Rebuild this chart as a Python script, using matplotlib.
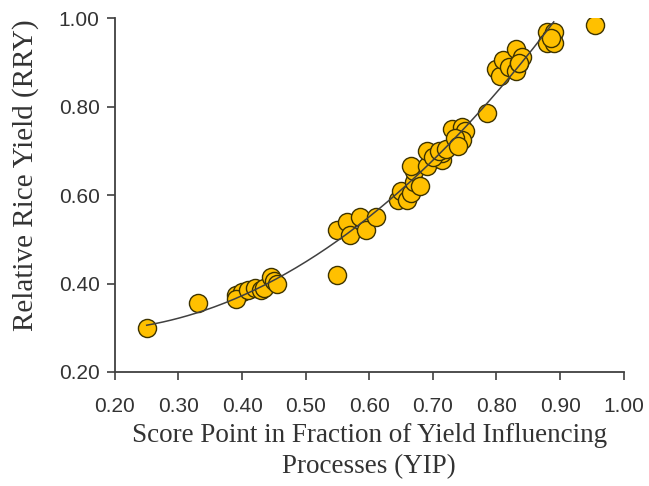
import numpy as np
import matplotlib
matplotlib.use("Agg")
import matplotlib.pyplot as plt

# YIP score (x) vs relative rice yield (y)
yip = [0.25, 0.33,
       0.39, 0.40, 0.39, 0.41, 0.42, 0.43, 0.435, 0.445, 0.45, 0.455,
       0.55, 0.55, 0.565, 0.57, 0.585, 0.595, 0.61,
       0.645, 0.65, 0.66, 0.665, 0.67, 0.67, 0.68, 0.665, 0.69, 0.70,
       0.715, 0.715, 0.69, 0.70, 0.71, 0.72,
       0.73, 0.745, 0.75, 0.745, 0.735, 0.74, 0.785,
       0.80, 0.805, 0.81, 0.82, 0.83, 0.835, 0.83, 0.84, 0.835,
       0.88, 0.89, 0.88, 0.89, 0.885, 0.955]
rry = [0.30, 0.355,
       0.375, 0.38, 0.365, 0.385, 0.39, 0.385, 0.39, 0.415, 0.405, 0.40,
       0.52, 0.42, 0.54, 0.51, 0.55, 0.52, 0.55,
       0.59, 0.61, 0.59, 0.605, 0.63, 0.655, 0.62, 0.665, 0.665, 0.69,
       0.68, 0.695, 0.70, 0.685, 0.70, 0.705,
       0.75, 0.755, 0.745, 0.725, 0.73, 0.71, 0.785,
       0.885, 0.87, 0.905, 0.89, 0.88, 0.898, 0.93, 0.913, 0.898,
       0.969, 0.969, 0.943, 0.943, 0.955, 0.984]

xticks = [0.20, 0.30, 0.40, 0.50, 0.60, 0.70, 0.80, 0.90, 1.00]
yticks = [0.20, 0.40, 0.60, 0.80, 1.00]

x = np.array(yip)
y = np.array(rry)

fig = plt.figure(figsize=(6.49, 4.86), dpi=100)
ax = fig.add_axes([0.177, 0.2346, 0.784, 0.728])

# 2次の近似曲線 (右端の1点は除いてフィット)
sel = x < 0.9
coef = np.polyfit(x[sel], y[sel], 2)
xf = np.linspace(x[sel].min(), x[sel].max(), 200)
ax.plot(xf, np.polyval(coef, xf), color="#404040", lw=1.1, zorder=3)

ax.scatter(x, y, s=170, color="#FFC000", edgecolor="#3d3300", linewidth=1.0, zorder=2)

ax.set_xlim(0.2, 1.0)
ax.set_ylim(0.2, 1.0)
ax.set_xticks(xticks)
ax.set_yticks(yticks)
ax.set_xticklabels([f"{v:.2f}" for v in xticks], fontsize=15, family="Liberation Sans", color="#333333")
ax.set_yticklabels([f"{v:.2f}" for v in yticks], fontsize=15, family="Liberation Sans", color="#333333")

for s in ["top", "right"]:
    ax.spines[s].set_visible(False)
for s in ["left", "bottom"]:
    ax.spines[s].set_color("#404040")
    ax.spines[s].set_linewidth(1.3)
ax.tick_params(direction="out", length=6, width=1.2, color="#404040")
ax.tick_params(axis="x", pad=12)
ax.tick_params(axis="y", pad=5)

# 軸ラベル
ax.set_xlabel("Score Point in Fraction of Yield Influencing\nProcesses (YIP)",
              fontsize=19.5, family="Liberation Serif", color="#333333", linespacing=1.3)
ax.xaxis.set_label_coords(0.5, -0.145)
ax.xaxis.label.set_va("top")
ax.set_ylabel("Relative Rice Yield (RRY)", fontsize=21, family="Liberation Serif", color="#333333")
ax.yaxis.set_label_coords(-0.176, 0.556)
ax.yaxis.label.set_va("center")

fig.savefig("out.png", dpi=100)
